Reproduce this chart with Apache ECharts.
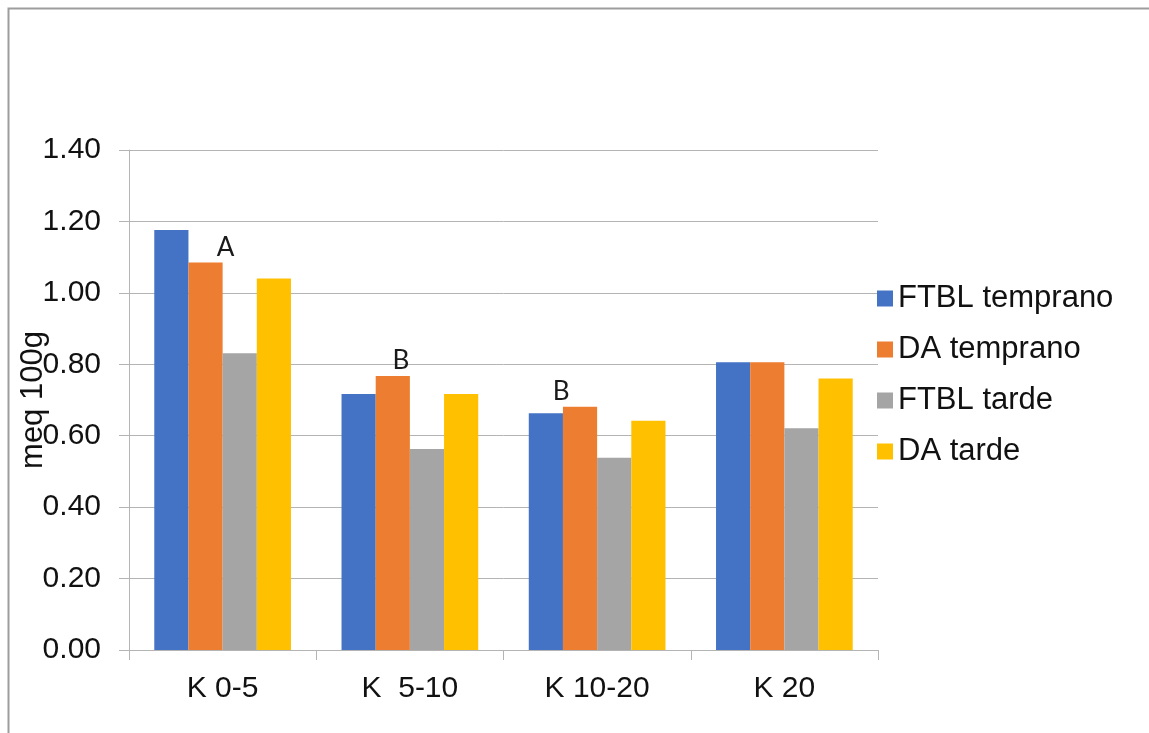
<!DOCTYPE html>
<html>
<head>
<meta charset="utf-8">
<script src="https://cdn.jsdelivr.net/npm/echarts@6/dist/echarts.min.js"></script>
<style>
  html, body { margin: 0; padding: 0; background: #ffffff; }
  #chart { width: 1149px; height: 733px; }
</style>
</head>
<body>
<div id="chart"></div>
<script>
// Soil potassium (meq 100g) by depth and sampling date
const categories = ['K 0-5', 'K  5-10', 'K 10-20', 'K 20'];
const seriesNames = ['FTBL temprano', 'DA temprano', 'FTBL tarde', 'DA tarde'];
const ftblTemprano = [1.176, 0.717, 0.663, 0.806];
const daTemprano   = [1.085, 0.767, 0.681, 0.806];
const ftblTarde    = [0.831, 0.563, 0.538, 0.621];
const daTarde      = [1.040, 0.717, 0.642, 0.760];
// significance letters shown over the "DA temprano" bars
const letters = ['A', 'B', 'B', ''];
const letterShift = [20, 8, -19, 0];
const yTicks = { min: 0, max: 1.4, interval: 0.2 };

const colors = ['#4472C4', '#ED7D31', '#A5A5A5', '#FFC000'];
const gridGray = '#b4b4b4';
const textFont = 'Liberation Sans, Arial, sans-serif';

const chart = echarts.init(document.getElementById('chart'), null, { renderer: 'canvas' });

const daData = daTemprano.map((v, i) => ({
  value: v,
  label: {
    show: letters[i] !== '',
    formatter: letters[i],
    offset: [letterShift[i], 0]
  }
}));

const option = {
  animation: false,
  backgroundColor: '#ffffff',
  color: colors,
  graphic: [{
    type: 'rect',
    left: 6, top: 6,
    shape: { width: 1300, height: 900 },
    style: { fill: 'none', stroke: '#9d9d9d', lineWidth: 2 },
    silent: true,
    z: -10
  }],
  grid: {
    left: 129, top: 150, right: 271, bottom: 83,
    containLabel: false,
    outerBoundsMode: 'none'
  },
  legend: {
    orient: 'vertical',
    left: 877,
    top: 283,
    padding: 0,
    itemWidth: 16,
    itemHeight: 16,
    itemGap: 20,
    itemTextGap: 8,
    icon: 'rect',
    textStyle: { fontFamily: textFont, fontSize: 31, color: '#111111' },
    data: seriesNames
  },
  xAxis: {
    type: 'category',
    data: categories,
    axisLine: { lineStyle: { color: gridGray, width: 1 } },
    axisTick: { show: true, length: 10, lineStyle: { color: gridGray } },
    axisLabel: { fontFamily: textFont, fontSize: 30, color: '#111111', margin: 24 }
  },
  yAxis: {
    type: 'value',
    min: yTicks.min,
    max: yTicks.max,
    interval: yTicks.interval,
    name: 'meq 100g',
    nameLocation: 'middle',
    nameRotate: 90,
    nameGap: 80,
    nameMoveOverlap: false,
    nameTextStyle: { fontFamily: textFont, fontSize: 31, color: '#111111' },
    axisLine: { show: true, lineStyle: { color: gridGray, width: 1 } },
    axisTick: { show: true, length: 10, lineStyle: { color: gridGray } },
    splitLine: { show: true, lineStyle: { color: gridGray, width: 1 } },
    axisLabel: {
      fontFamily: textFont, fontSize: 30, color: '#111111', margin: 28,
      formatter: v => v.toFixed(2)
    }
  },
  series: [
    { name: seriesNames[0], type: 'bar', data: ftblTemprano, barGap: '0%', barCategoryGap: '27%' },
    {
      name: seriesNames[1], type: 'bar', data: daData, barGap: '0%', barCategoryGap: '27%',
      label: {
        position: 'top', distance: 2,
        fontFamily: 'Lato, Open Sans, sans-serif', fontSize: 26, color: '#1a1a1a'
      }
    },
    { name: seriesNames[2], type: 'bar', data: ftblTarde, barGap: '0%', barCategoryGap: '27%' },
    { name: seriesNames[3], type: 'bar', data: daTarde, barGap: '0%', barCategoryGap: '27%' }
  ]
};

chart.setOption(option);
</script>
</body>
</html>
